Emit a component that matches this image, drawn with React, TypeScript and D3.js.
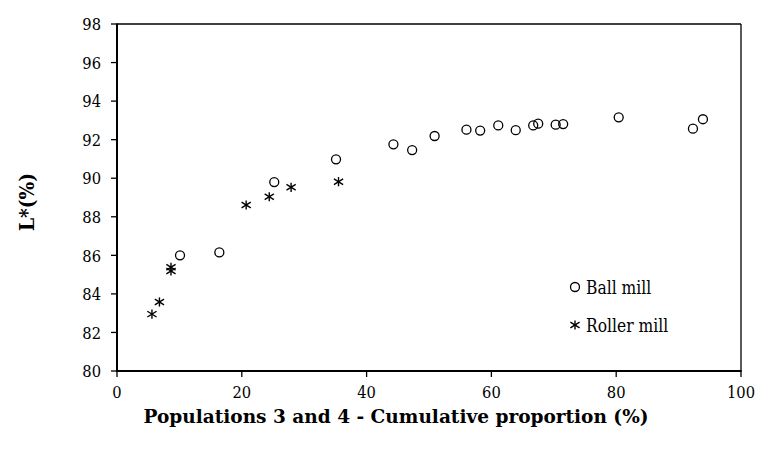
import React from "react";
import * as d3 from "d3";

const ballX = [10.1, 16.4, 25.2, 35.1, 44.3, 47.3, 50.9, 56.0, 58.2, 61.1, 63.9, 66.7, 67.5, 70.3, 71.5, 80.4, 92.3, 93.9];
const ballY = [86.0, 86.15, 89.8, 90.98, 91.76, 91.46, 92.19, 92.52, 92.47, 92.74, 92.49, 92.74, 92.83, 92.78, 92.81, 93.16, 92.57, 93.06];

const rollerX = [5.6, 6.8, 8.65, 8.65, 20.7, 24.4, 27.9, 35.5];
const rollerY = [82.95, 83.58, 85.38, 85.19, 88.61, 89.04, 89.53, 89.82];

const xTicks = [0, 20, 40, 60, 80, 100];
const yTicks = [80, 82, 84, 86, 88, 90, 92, 94, 96, 98];

const seriesNames = ["Ball mill", "Roller mill"];
const xTitle = "Populations 3 and 4 - Cumulative proportion (%)";
const yTitle = "L*(%)";

const W = 757;
const H = 450;
const M = { left: 117, right: 741, top: 24, bottom: 371 };
const SERIF = '"DejaVu Serif", serif';
const SX = 0.84;

function Star({ cx, cy, s = 4.6 }: { cx: number; cy: number; s?: number }) {
  return (
    <g stroke="#000" strokeWidth={1.4}>
      <line x1={cx - s} y1={cy - s * 0.62} x2={cx + s} y2={cy + s * 0.62} />
      <line x1={cx - s} y1={cy + s * 0.62} x2={cx + s} y2={cy - s * 0.62} />
      <line x1={cx} y1={cy - s} x2={cx} y2={cy + s} />
    </g>
  );
}

function SText({
  x,
  y,
  size,
  anchor = "start",
  children,
}: {
  x: number;
  y: number;
  size: number;
  anchor?: string;
  children: React.ReactNode;
}) {
  return (
    <text
      transform={`translate(${x},${y}) scale(${SX},1)`}
      textAnchor={anchor}
      fontSize={size}
      fontFamily={SERIF}
      fill="#000"
    >
      {children}
    </text>
  );
}

export default function App() {
  const x = d3.scaleLinear().domain([0, 100]).range([M.left, M.right]);
  const y = d3.scaleLinear().domain([80, 98]).range([M.bottom, M.top]);

  const ball = ballX.map((v, i) => ({ x: v, y: ballY[i] }));
  const roller = rollerX.map((v, i) => ({ x: v, y: rollerY[i] }));

  return (
    <svg width={W} height={H} style={{ position: "absolute", left: 0, top: 0 }}>
      <rect x={0} y={0} width={W} height={H} fill="#fff" />
      <line x1={M.left} y1={M.top} x2={M.right} y2={M.top} stroke="#000" strokeWidth={1.3} />
      <line x1={M.right} y1={M.top} x2={M.right} y2={M.bottom} stroke="#000" strokeWidth={1.3} />
      <line x1={M.left} y1={M.top - 0.6} x2={M.left} y2={M.bottom + 1} stroke="#000" strokeWidth={2} />
      <line x1={M.left - 1} y1={M.bottom} x2={M.right + 0.6} y2={M.bottom} stroke="#000" strokeWidth={2} />
      {yTicks.map((t) => (
        <g key={"y" + t}>
          <line x1={M.left - 6} x2={M.left} y1={y(t)} y2={y(t)} stroke="#000" strokeWidth={1.3} />
          <SText x={101} y={y(t) + 6.2} size={17.5} anchor="end">
            {t}
          </SText>
        </g>
      ))}
      {xTicks.map((t) => (
        <g key={"x" + t}>
          <line x1={x(t)} x2={x(t)} y1={M.bottom} y2={M.bottom + 6} stroke="#000" strokeWidth={1.3} />
          <SText x={x(t)} y={398} size={17.5} anchor="middle">
            {t}
          </SText>
        </g>
      ))}
      <text
        x={396}
        y={423}
        textAnchor="middle"
        fontSize={19}
        fontWeight="bold"
        fill="#000"
        fontFamily={SERIF}
        textLength={505}
        lengthAdjust="spacingAndGlyphs"
      >
        {xTitle}
      </text>
      <text
        transform={`translate(34, 202) rotate(-90)`}
        textAnchor="middle"
        fontSize={20}
        fontWeight="bold"
        fill="#000"
        fontFamily={SERIF}
        textLength={58}
        lengthAdjust="spacingAndGlyphs"
      >
        {yTitle}
      </text>
      {ball.map((d, i) => (
        <circle key={"b" + i} cx={x(d.x)} cy={y(d.y)} r={4.5} fill="none" stroke="#000" strokeWidth={1.3} />
      ))}
      {roller.map((d, i) => (
        <Star key={"r" + i} cx={x(d.x)} cy={y(d.y)} />
      ))}
      <circle cx={575} cy={287} r={4.5} fill="none" stroke="#000" strokeWidth={1.3} />
      <SText x={586} y={294} size={18.5}>
        {seriesNames[0]}
      </SText>
      <Star cx={575} cy={325} />
      <SText x={586} y={332} size={18.5}>
        {seriesNames[1]}
      </SText>
    </svg>
  );
}
